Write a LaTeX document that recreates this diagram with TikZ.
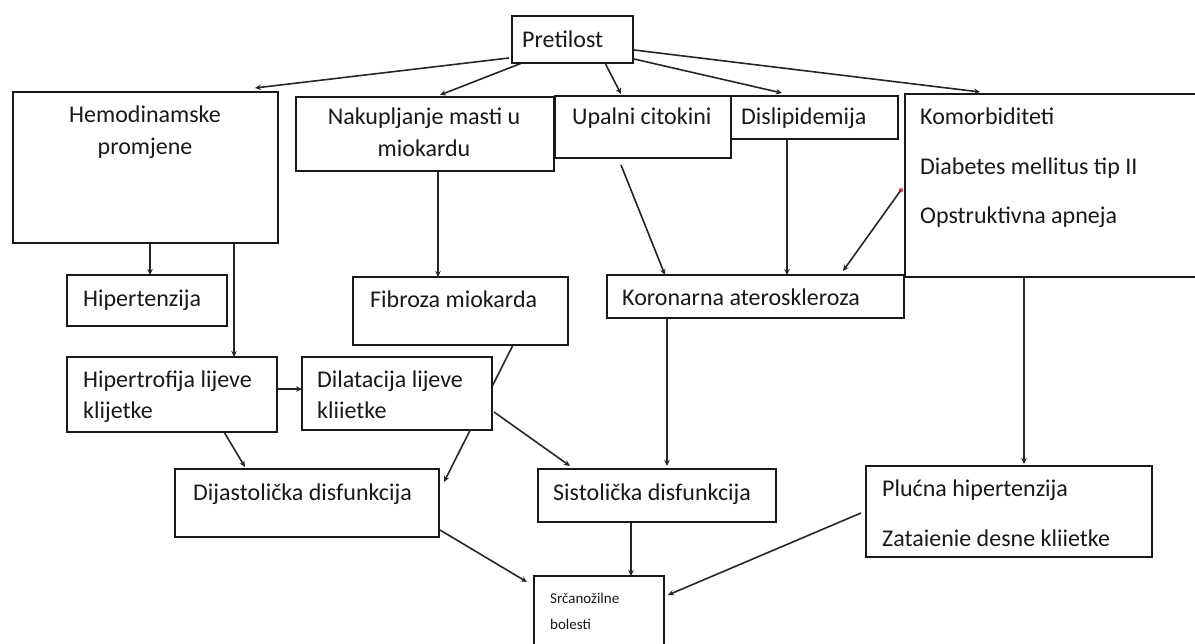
\documentclass[tikz,border=0pt]{standalone}
\usepackage{fontspec}
\setmainfont{Carlito}
\usetikzlibrary{calc,arrows.meta,backgrounds}
\tikzset{
  box/.style={draw=black!90, line width=1.7pt, fill=white, rectangle, inner sep=0pt, outer sep=0pt, anchor=north west},
  txt/.style={anchor=base west, inner sep=0pt, font=\fontsize{24}{28}\selectfont, text=black!90},
  ctxt/.style={anchor=base, inner sep=0pt, font=\fontsize{24}{28}\selectfont, text=black!90},
  stxt/.style={anchor=base west, inner sep=0pt, font=\fontsize{15}{17}\selectfont, text=black!90},
  conn/.style={draw=black!85, line width=1.6pt, -{Stealth[length=6pt,width=5.5pt]}},
}
\newcommand{\mybox}[5]{\node[box, minimum width=#4pt-#2pt, minimum height=#5pt-#3pt] (#1) at (#2,#3) {};}
\begin{document}
\begin{tikzpicture}[x=1pt,y=-1pt]
\clip (0,0) rectangle (1195,644);
% boxes
\mybox{pret}{512}{16}{633}{63}
\mybox{hemo}{13}{92}{278}{243}
\mybox{nak}{296}{97}{554}{171}
\mybox{upal}{555}{96}{731}{158}
\mybox{disl}{731}{96}{898}{139}
\mybox{komor}{905}{94}{1205}{277}
\mybox{hipt}{67}{275}{227}{326}
\mybox{fib}{353}{277}{568}{345}
\mybox{kor}{607}{275}{904}{318}
\mybox{hyp}{67}{357}{277}{432}
\mybox{dil}{302}{357}{492}{430}
\mybox{dij}{175}{469}{439}{537}
\mybox{sis}{538}{469}{776}{522}
\mybox{plu}{866}{466}{1152}{557}
\mybox{src}{534}{576}{664}{652}
% texts
\node[txt] (tpret) at (522,47.5) {Pretilost};
\node[ctxt] (themo1) at (145,123) {Hemodinamske};
\node[ctxt] (themo2) at (145,155) {promjene};
\node[ctxt] (tnak1) at (424,125) {Nakupljanje masti u};
\node[ctxt] (tnak2) at (424,157) {miokardu};
\node[txt] (tupal) at (572,125) {Upalni citokini};
\node[txt] (tdisl) at (741,125) {Dislipidemija};
\node[txt] (tkom1) at (920,125) {Komorbiditeti};
\node[txt] (tkom2) at (920,175) {Diabetes mellitus tip II};
\node[txt] (tkom3) at (920,224) {Opstruktivna apneja};
\node[txt] (thipt) at (83,306.5) {Hipertenzija};
\node[txt] (tfib) at (370,308) {Fibroza miokarda};
\node[txt] (tkor) at (622,306) {Koronarna ateroskleroza};
\node[txt] (thyp1) at (83,388) {Hipertrofija lijeve};
\node[txt] (thyp2) at (83,419) {klijetke};
\node[txt] (tdil1) at (317,388) {Dilatacija lijeve};
\node[txt] (tdil2) at (317,419) {kliietke};
\node[txt] (tdij) at (193,500) {Dijastolička disfunkcija};
\node[txt] (tsis) at (553,500) {Sistolička disfunkcija};
\node[txt] (tplu1) at (882,496) {Plućna hipertenzija};
\node[txt] (tplu2) at (882,546.5) {Zataienie desne kliietke};
\node[stxt] (tsrc1) at (550,603) {Srčanožilne};
\node[stxt] (tsrc2) at (550,629) {bolesti};
% connectors
\begin{scope}[on background layer]
\draw[conn] ($(pret.north west)+(-3,42)$) -- ($(hemo.north west)+(242,-4)$);
\draw[conn] ($(pret.south west)+(10,0)$) -- ($(nak.north west)+(144,-2)$);
\draw[conn] ($(pret.south west)+(93,0)$) -- ($(upal.north west)+(66,-2)$);
\draw[conn] ($(pret.north east)+(1,43)$) -- ($(disl.north west)+(51,-3)$);
\draw[conn] ($(pret.north east)+(1,34)$) -- ($(komor.north west)+(75,-2)$);
\draw[conn] ($(hemo.south west)+(137,0)$) -- ($(hipt.north west)+(83,0)$);
\draw[conn] ($(hemo.south west)+(221,0)$) -- ($(hyp.north west)+(167,0)$);
\draw[conn] ($(nak.south west)+(142,0)$) -- ($(fib.north west)+(85,0)$);
\draw[conn] ($(upal.south west)+(66,7)$) -- ($(kor.north west)+(58,0)$);
\draw[conn] ($(disl.south west)+(56,0)$) -- ($(kor.north west)+(180,0)$);
\coordinate (kstart) at ($(komor.north west)+(-4,96)$);
\draw[conn] (kstart) -- ($(kor.north west)+(236,-4)$);
\draw[conn] ($(komor.south west)+(119,0)$) -- ($(plu.north west)+(158,-2)$);
\draw[conn] ($(hyp.north east)+(0,32)$) -- ($(dil.north west)+(0,32)$);
\draw[conn] ($(fib.south west)+(160,0)$) -- ($(dij.north east)+(5,13)$);
\draw[conn] ($(hyp.south west)+(157,0)$) -- ($(dij.north west)+(70,-2)$);
\draw[conn] ($(dil.north east)+(2,55)$) -- ($(sis.north west)+(32,-3)$);
\draw[conn] ($(kor.south west)+(60,0)$) -- ($(sis.north west)+(129,-3)$);
\draw[conn] ($(sis.south west)+(93,0)$) -- ($(src.north west)+(97,0)$);
\draw[conn] ($(dij.north east)+(1,61)$) -- ($(src.north west)+(-7,6)$);
\draw[conn] ($(plu.north west)+(-5,47)$) -- ($(src.north east)+(4,19)$);
\end{scope}
\fill[red!75!black, opacity=0.6] (kstart) circle (2.4);
\end{tikzpicture}
\end{document}
